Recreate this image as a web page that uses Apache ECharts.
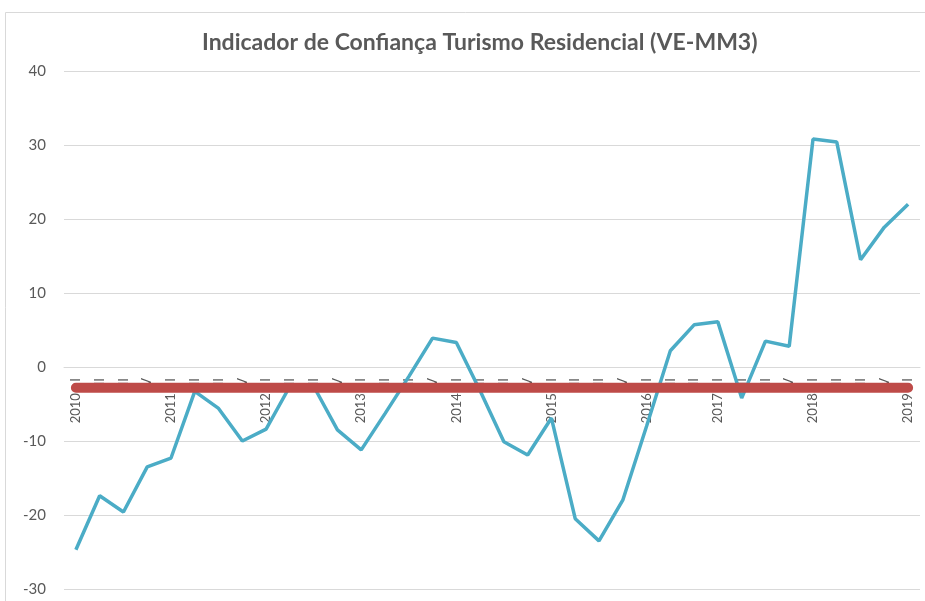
<!DOCTYPE html>
<html>
<head>
<meta charset="utf-8">
<script src="https://cdn.jsdelivr.net/npm/echarts@6/dist/echarts.min.js"></script>
<style>
  html, body { margin: 0; padding: 0; background: #fff; }
  #chart { width: 925px; height: 601px; }
</style>
</head>
<body>
<div id="chart"></div>
<script>
var chart = echarts.init(document.getElementById('chart'), null, { renderer: 'canvas' });

// trimestres (2016 sem IV)
var trimestres = [
    '2010 - I', 'II', 'III', 'IV',
    '2011 - I', 'II', 'III', 'IV',
    '2012 - I', 'II', 'III', 'IV',
    '2013 - I', 'II', 'III', 'IV',
    '2014 - I', 'II', 'III', 'IV',
    '2015 - I', 'II', 'III', 'IV',
    '2016 - I', 'II', 'III',
    '2017 - I', 'II', 'III', 'IV',
    '2018 - I', 'II', 'III', 'IV',
    '2019 - I'
]

// VE-MM3
var indicador = [
    -24.7, -17.4, -19.6, -13.5,
    -12.3, -3.3, -5.6, -10.0,
    -8.4, -2.6, -2.6, -8.5,
    -11.2, -6.3, -1.3, 3.9,
    3.3, -3.2, -10.1, -11.9,
    -6.9, -20.5, -23.5, -18.0,
    -8.0, 2.2, 5.7,
    6.1, -4.2, 3.5, 2.8,
    30.8, 30.4, 14.5, 18.9,
    22.0
]

// linha de referência (média)
var media = [
    -2.8, -2.8, -2.8, -2.8,
    -2.8, -2.8, -2.8, -2.8,
    -2.8, -2.8, -2.8, -2.8,
    -2.8, -2.8, -2.8, -2.8,
    -2.8, -2.8, -2.8, -2.8,
    -2.8, -2.8, -2.8, -2.8,
    -2.8, -2.8, -2.8,
    -2.8, -2.8, -2.8, -2.8,
    -2.8, -2.8, -2.8, -2.8,
    -2.8
]

var cinza = '#595959'

chart.setOption({
    animation: false,
    backgroundColor: '#fff',
    graphic: [{
        type: 'rect',
        shape: { x: 5.5, y: 12.5, width: 940, height: 620 },
        style: { fill: 'none', stroke: '#d9d9d9', lineWidth: 1 },
        silent: true
    }],
    title: {
        text: 'Indicador de Confiança Turismo Residencial (VE-MM3)',
        left: 197,
        top: 26,
        textStyle: {
            fontFamily: 'Lato',
            fontWeight: 'bold',
            fontSize: 23,
            color: cinza
        }
    },
    grid: {
        left: 64,
        right: 5,
        top: 71,
        bottom: 12,
        containLabel: false,
        outerBoundsMode: 'none'
    },
    xAxis: {
        type: 'category',
        data: trimestres,
        boundaryGap: true,
        position: 'bottom',
        offset: -222,   // eixo cruza em y = 0
        axisLine: {
            onZero: false,
            lineStyle: { color: '#d9d9d9' }
        },
        axisTick: { show: false },
        axisLabel: {
            rotate: 90,
            interval: 0,
            margin: 11,
            fontFamily: 'Lato',
            fontSize: 13,
            color: cinza
        }
    },
    yAxis: {
        type: 'value',
        min: -30,
        max: 40,
        interval: 10,
        axisLine: { show: false },
        axisTick: { show: false },
        axisLabel: {
            margin: 18,
            fontFamily: 'Lato',
            fontSize: 15,
            color: cinza
        },
        splitLine: {
            lineStyle: { color: '#d9d9d9', width: 1 }
        }
    },
    series: [
        {
            name: 'VE-MM3',
            type: 'line',
            data: indicador,
            symbol: 'none',
            z: 2,
            lineStyle: { color: '#4BACC6', width: 3.5 },
            itemStyle: { color: '#4BACC6' }
        },
        {
            name: 'Média',
            type: 'line',
            data: media,
            symbol: 'none',
            z: 3,
            lineStyle: { color: '#BE4B48', width: 10, cap: 'round' },
            itemStyle: { color: '#BE4B48' }
        }
    ]
})
</script>
</body>
</html>
